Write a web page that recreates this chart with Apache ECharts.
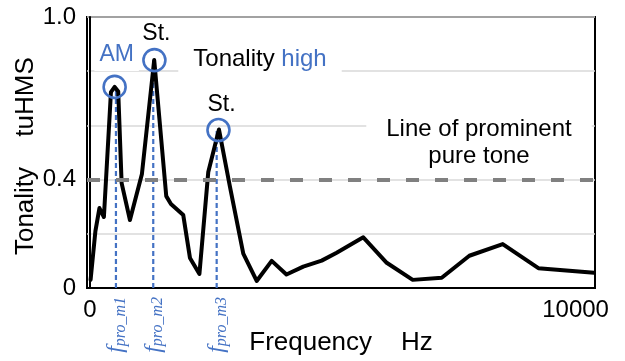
<!DOCTYPE html>
<html>
<head>
<meta charset="utf-8">
<script src="https://cdn.jsdelivr.net/npm/echarts@6/dist/echarts.min.js"></script>
<style>
  html, body { margin: 0; padding: 0; background: #fff; }
  #chart { width: 625px; height: 361px; }
</style>
</head>
<body>
<div id="chart"></div>
<script>
// Tonality spectrum (tuHMS) over frequency
const freqHz = [14, 113, 196, 288, 433, 509, 583, 653, 824, 1071, 1324, 1572, 1668, 1922, 2060, 2255,
  2437, 2657, 2884, 3158, 3434, 3743, 4047, 4393, 4772, 5081, 5629, 6111, 6647, 7244, 7813, 8500, 9234, 10381];
const tonality = [0.030, 0.210, 0.295, 0.262, 0.723, 0.742, 0.725, 0.387, 0.251, 0.421, 0.841, 0.339, 0.310,
  0.269, 0.111, 0.052, 0.428, 0.585, 0.373, 0.127, 0.026, 0.100, 0.050, 0.079, 0.101, 0.130, 0.187, 0.093,
  0.030, 0.038, 0.119, 0.162, 0.073, 0.056];

// Prominent tonal peaks
const peakFreq = [509, 1328, 2647];
const peakTonality = [0.742, 0.841, 0.583];
const peakNames = ['AM', 'St.', 'St.'];

// Frequencies of prominent tones
const proFreq = [536, 1304, 2610];
const proSub = ['pro_m1', 'pro_m2', 'pro_m3'];

// Threshold for a prominent pure tone
const toneThreshold = 0.4;

// Axis tick labels
const xTickValues = [0, 10000];
const yTickValues = [0, 0.4, 1.0];
const yTickText = ['0', '0.4', '1.0'];

const BLUE = '#4472C4';
const FONT = '"Liberation Sans", Arial, sans-serif';
const SERIF = '"Liberation Serif", "DejaVu Serif", serif';

const chart = echarts.init(document.getElementById('chart'), null, { renderer: 'canvas' });

const series = [];

// threshold line
series.push({
  type: 'line', data: [], z: 1, silent: true,
  markLine: {
    silent: true, symbol: 'none', label: { show: false },
    lineStyle: { color: '#808080', width: 4, type: [13, 16], opacity: 1 },
    data: [{ yAxis: toneThreshold }]
  }
});

// dashed verticals at the prominent tone frequencies
proFreq.forEach((f, i) => {
  series.push({
    type: 'line', z: 2, silent: true, symbol: 'none',
    lineStyle: { color: BLUE, width: 2.2, type: [5, 3] },
    data: [[f, 0], [f, peakTonality[i]]]
  });
});

// tonality curve
series.push({
  type: 'line', z: 3, silent: true, symbol: 'none',
  lineStyle: { color: '#000', width: 4, join: 'round', cap: 'round' },
  data: freqHz.map((f, i) => [f, tonality[i]])
});

// circles marking the peaks, with their names
const peakLabelOffsets = [[2, -32.5], [2, -26], [3, -25.5]];
series.push({
  type: 'scatter', z: 4, silent: true,
  symbol: 'circle', symbolSize: 22,
  itemStyle: { color: 'rgba(0,0,0,0)', borderColor: BLUE, borderWidth: 2.6, opacity: 1 },
  data: peakFreq.map((f, i) => ({
    value: [f, peakTonality[i]],
    label: {
      show: true, position: 'inside', offset: peakLabelOffsets[i],
      formatter: peakNames[i],
      color: i === 0 ? BLUE : '#000',
      fontSize: 23, fontFamily: FONT,
      backgroundColor: i === 0 ? '#fff' : 'transparent',
      padding: i === 0 ? [2, 5, 8, 5] : 0
    }
  }))
});

// f_pro labels below the axis
series.push({
  type: 'scatter', z: 4, silent: true,
  symbol: 'circle', symbolSize: 0,
  itemStyle: { color: 'rgba(0,0,0,0)', opacity: 1 },
  data: proFreq.map((f, i) => ({
    value: [f, 0],
    label: {
      show: true, position: 'bottom', distance: 9, rotate: 90,
      align: 'right', verticalAlign: 'middle',
      formatter: '{f|f}{s|' + proSub[i] + '}',
      rich: {
        f: { fontSize: 24, lineHeight: 26, verticalAlign: 'middle', fontStyle: 'italic',
             fontFamily: SERIF, color: BLUE },
        s: { fontSize: 16, lineHeight: 16, verticalAlign: 'bottom', fontStyle: 'italic',
             fontFamily: SERIF, color: BLUE }
      }
    }
  }))
});

chart.setOption({
  animation: false,
  backgroundColor: '#fff',
  textStyle: { fontFamily: FONT, color: '#000' },
  grid: {
    left: 87, right: 30, top: 17, bottom: 73,
    containLabel: false, outerBoundsMode: 'none',
    show: true, borderColor: '#000', borderWidth: 2, backgroundColor: 'transparent'
  },
  xAxis: {
    type: 'value', min: -60, max: 10400,
    name: 'Frequency    Hz', nameLocation: 'middle', nameGap: 42,
    nameTextStyle: { fontSize: 26, color: '#000', fontFamily: FONT },
    axisLine: { show: true, lineStyle: { color: '#000', width: 2 } },
    axisTick: { show: false },
    splitLine: { show: false },
    axisLabel: {
      customValues: xTickValues, margin: 10,
      fontSize: 24, color: '#000', fontFamily: FONT,
      formatter: v => String(v)
    }
  },
  yAxis: {
    type: 'value', min: 0, max: 1, interval: 0.2,
    axisLine: { show: true, lineStyle: { color: '#000', width: 2 } },
    axisTick: { show: false },
    splitLine: { show: true, lineStyle: { color: '#d9d9d9', width: 1.5 } },
    axisLabel: {
      customValues: yTickValues, margin: 11,
      fontSize: 24, color: '#000', fontFamily: FONT,
      formatter: v => {
        const k = yTickValues.findIndex(t => Math.abs(t - v) < 1e-9);
        return k >= 0 ? yTickText[k] : '';
      }
    }
  },
  graphic: [
    {
      type: 'text', x: 26, y: 211, rotation: Math.PI / 2, z: 100,
      style: { text: 'Tonality', font: '26px ' + FONT, fill: '#000',
               textAlign: 'center', textVerticalAlign: 'middle', align: 'center', verticalAlign: 'middle' }
    },
    {
      type: 'text', x: 26, y: 97, rotation: Math.PI / 2, z: 100,
      style: { text: 'tuHMS', font: '26px ' + FONT, fill: '#000',
               textAlign: 'center', textVerticalAlign: 'middle', align: 'center', verticalAlign: 'middle' }
    },
    {
      type: 'text', x: 260, y: 59, z: 1,
      style: {
        text: '{a|Tonality }{b|high}',
        rich: {
          a: { fontSize: 24, fontFamily: FONT, fill: '#000', color: '#000', lineHeight: 26 },
          b: { fontSize: 24, fontFamily: FONT, fill: BLUE, color: BLUE, lineHeight: 26 }
        },
        backgroundColor: '#fff', padding: [6, 15, 5, 15],
        textAlign: 'center', textVerticalAlign: 'middle', align: 'center', verticalAlign: 'middle'
      }
    },
    {
      type: 'text', x: 479, y: 143, z: 1,
      style: {
        text: 'Line of prominent\npure tone',
        font: '24px ' + FONT, fill: '#000', lineHeight: 27,
        backgroundColor: '#fff', padding: [4, 20, 4, 20],
        textAlign: 'center', textVerticalAlign: 'middle', align: 'center', verticalAlign: 'middle'
      }
    }
  ],
  series: series
});
</script>
</body>
</html>
